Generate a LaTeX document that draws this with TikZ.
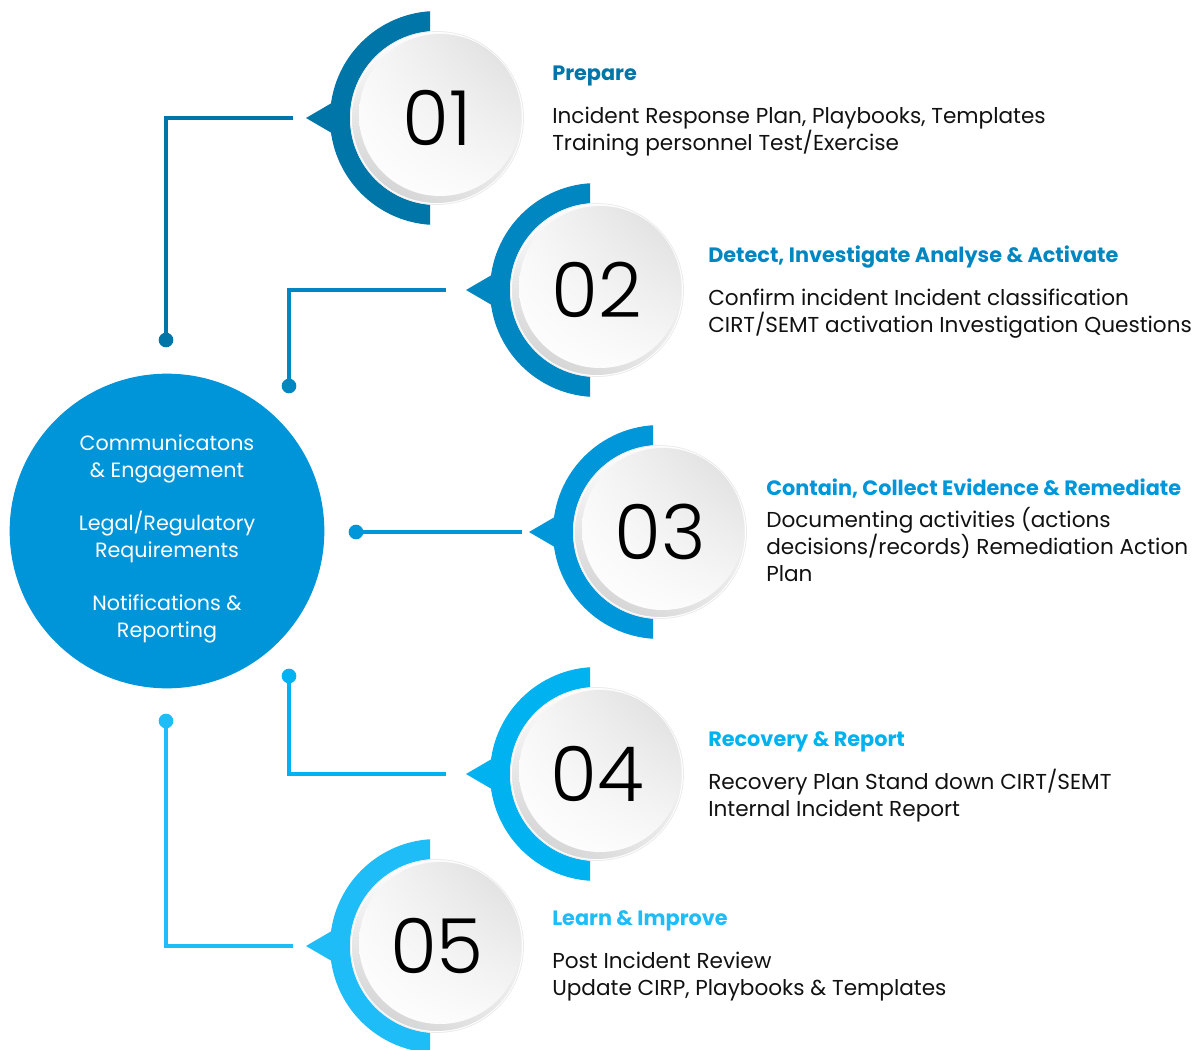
\documentclass[tikz,border=0pt]{standalone}
\usepackage{fontspec}
\setmainfont{Poppins}
\newfontfamily\numfont{Poppins Light}
\usetikzlibrary{calc,shadings}

\definecolor{stageA}{HTML}{0075A7}
\definecolor{stageB}{HTML}{0087C2}
\definecolor{stageC}{HTML}{0096DA}
\definecolor{stageD}{HTML}{00B2F0}
\definecolor{stageE}{HTML}{1EBDF8}
\definecolor{hub}{HTML}{0094D8}
\definecolor{ink}{HTML}{111111}

\tikzset{
  link/.style={line width=2.3pt},
  joint/.style={circle, fill, inner sep=0pt, minimum size=11pt},
  ttl/.style={anchor=base west, inner sep=0pt, font=\bfseries\fontsize{15.6}{18}\selectfont},
  body/.style={anchor=north west, inner sep=0pt, align=left, text=ink,
               font=\fontsize{16.2}{20.25}\selectfont},
  num/.style={circle, inner sep=0pt, minimum size=130pt, text=black,
              font=\numfont\fontsize{57}{57}\selectfont},
}

% one stage: ring with pointer, bevelled white disc and its number
% #1 centre, #2 colour, #3 number, #4 node name
\newcommand\stagering[4]{%
  \begin{scope}
    \clip ($(#1)+(-140,-120)$) rectangle ($(#1)+(-7,120)$);
    \fill[#2] (#1) circle (107);
  \end{scope}
  \fill[#2] ($(#1)+(-131,0)$) -- ($(#1)+(-95,-21)$) -- ($(#1)+(-95,21)$) -- cycle;
  \coordinate (#4tip) at ($(#1)+(-131,0)$);
  \fill[white] (#1) circle (87);
  \draw[black!8, line width=0.6pt] (#1) circle (86.5);
  \shade[upper left=white, upper right=black!4, lower left=black!20, lower right=black!8]
    (#1) circle (85);
  \shade[upper right=black!14, lower left=white, upper left=black!3, lower right=black!2]
    ($(#1)+(3,-3)$) circle (81);
  \node[num] (#4) at (#1) {#3};
}

\begin{document}
\begin{tikzpicture}[x=0.75pt, y=-0.75pt]
  \useasboundingbox (0,0) rectangle (1202,1049);

  % central hub
  \node[circle, fill=hub, minimum size=236pt, inner sep=0pt] (hubdisc) at (167,531) {};
  \node[text=white, align=center, font=\fontsize{15.5}{20.25}\selectfont] (hubtext) at (167,539)
    {Communicatons\\ \& Engagement\\[19.5pt]
     Legal/Regulatory\\ Requirements\\[19.5pt]
     Notifications \&\\ Reporting};

  % stages
  \stagering{437,118}{stageA}{01}{sa}
  \stagering{597,290}{stageB}{02}{sb}
  \stagering{660,532}{stageC}{03}{sc}
  \stagering{597,774}{stageD}{04}{sd}
  \stagering{437,946}{stageE}{05}{se}

  % joints on the hub side
  \node[joint, fill=stageA] (ja) at (166,340) {};
  \node[joint, fill=stageB] (jb) at (289,386) {};
  \node[joint, fill=stageC] (jc) at (356,532) {};
  \node[joint, fill=stageD] (jd) at (289,676) {};
  \node[joint, fill=stageE] (je) at (166,721) {};

  % connector ends beside each pointer
  \coordinate (ea) at ($(satip)+(-13,0)$);
  \coordinate (eb) at ($(sbtip)+(-20,0)$);
  \coordinate (ec) at ($(sctip)+(-7,0)$);
  \coordinate (ed) at ($(sdtip)+(-20,0)$);
  \coordinate (ee) at ($(setip)+(-13,0)$);

  \draw[link, stageA] (ea) -| (ja.center);
  \draw[link, stageB] (eb) -| (jb.center);
  \draw[link, stageC] (ec) -- (jc.center);
  \draw[link, stageD] (ed) -| (jd.center);
  \draw[link, stageE] (ee) -| (je.center);

  % stage descriptions
  \node[ttl, text=stageA] (ta) at (552,80) {Prepare};
  \node[body] (ba) at (552,106.5) {Incident Response Plan, Playbooks, Templates\\Training personnel Test/Exercise};

  \node[ttl, text=stageB] (tb) at (708,262) {Detect, Investigate Analyse \& Activate};
  \node[body] (bb) at (708,288.5) {Confirm incident Incident classification\\CIRT/SEMT activation Investigation Questions};

  \node[ttl, text=stageC] (tc) at (766,495) {Contain, Collect Evidence \& Remediate};
  \node[body] (bc) at (766,507.5) {Documenting activities (actions\\decisions/records) Remediation Action\\Plan};

  \node[ttl, text=stageD] (td) at (708,746) {Recovery \& Report};
  \node[body] (bd) at (708,769) {Recovery Plan Stand down CIRT/SEMT\\Internal Incident Report};

  \node[ttl, text=stageE] (te) at (552,925) {Learn \& Improve};
  \node[body] (be) at (552,951.5) {Post Incident Review\\Update CIRP, Playbooks \& Templates};
\end{tikzpicture}
\end{document}
